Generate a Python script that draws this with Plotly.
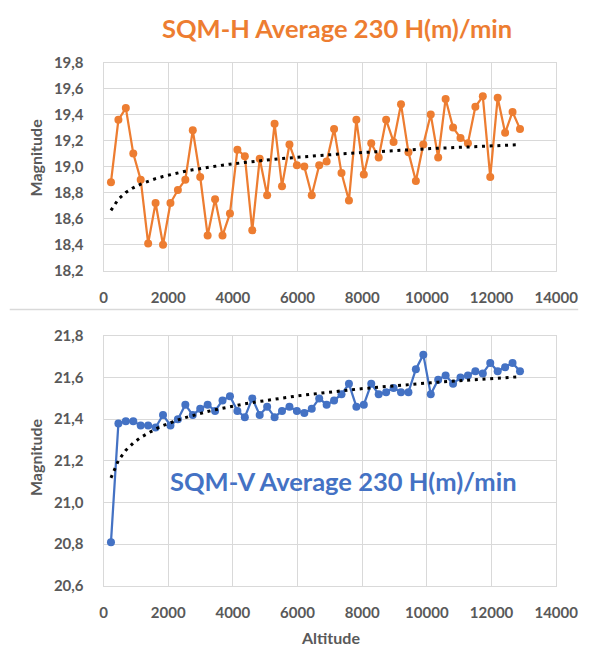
import numpy as np
import plotly.graph_objects as go

altitude = [230, 460, 690, 920, 1150, 1380, 1610, 1840, 2070, 2300,
            2530, 2760, 2990, 3220, 3450, 3680, 3910, 4140, 4370, 4600,
            4830, 5060, 5290, 5520, 5750, 5980, 6210, 6440, 6670, 6900,
            7130, 7360, 7590, 7820, 8050, 8280, 8510, 8740, 8970, 9200,
            9430, 9660, 9890, 10120, 10350, 10580, 10810, 11040, 11270, 11500,
            11730, 11960, 12190, 12420, 12650, 12880]

sqm_h = [18.88, 19.36, 19.45, 19.10, 18.90, 18.41, 18.72, 18.40, 18.72, 18.82,
         18.90, 19.28, 18.92, 18.47, 18.75, 18.47, 18.64, 19.13, 19.08, 18.51,
         19.06, 18.78, 19.33, 18.85, 19.17, 19.01, 19.00, 18.78, 19.01, 19.04,
         19.29, 18.95, 18.74, 19.36, 18.94, 19.18, 19.07, 19.36, 19.19, 19.48,
         19.11, 18.89, 19.17, 19.40, 19.07, 19.52, 19.30, 19.22, 19.18, 19.46,
         19.54, 18.92, 19.53, 19.26, 19.42, 19.29]

sqm_v = [20.81, 21.38, 21.39, 21.39, 21.37, 21.37, 21.36, 21.42, 21.37, 21.40,
         21.47, 21.42, 21.45, 21.47, 21.44, 21.49, 21.51, 21.44, 21.41, 21.50,
         21.42, 21.46, 21.41, 21.44, 21.46, 21.44, 21.43, 21.45, 21.50, 21.47,
         21.49, 21.52, 21.57, 21.46, 21.47, 21.57, 21.52, 21.53, 21.55, 21.53,
         21.53, 21.64, 21.71, 21.52, 21.59, 21.61, 21.57, 21.60, 21.61, 21.63,
         21.62, 21.67, 21.63, 21.65, 21.67, 21.63]

x_ticks = [0, 2000, 4000, 6000, 8000, 10000, 12000, 14000]
title_h = "SQM-H Average 230 H(m)/min"
title_v = "SQM-V Average 230 H(m)/min"
x_title = "Altitude"
y_title = "Magnitude"

ORANGE = "#ED7D31"
BLUE = "#4472C4"
GRID = "#D9D9D9"
TXT = "#595959"
FONT = "Lato"

W, H = 605, 661


def log_trend(xs, ys):
    lx = np.log(np.array(xs, dtype=float))
    b, a = np.polyfit(lx, np.array(ys, dtype=float), 1)
    return list(a + b * lx)


fig = go.Figure()
fig.add_trace(go.Scatter(x=altitude, y=sqm_h, mode="lines+markers",
                         line=dict(color=ORANGE, width=2.25),
                         marker=dict(color=ORANGE, size=8),
                         xaxis="x", yaxis="y", showlegend=False))
fig.add_trace(go.Scatter(x=altitude, y=log_trend(altitude, sqm_h), mode="lines",
                         line=dict(color="black", width=3, dash="3px,4.7px"),
                         xaxis="x", yaxis="y", showlegend=False))
fig.add_trace(go.Scatter(x=altitude, y=sqm_v, mode="lines+markers",
                         line=dict(color=BLUE, width=2.25),
                         marker=dict(color=BLUE, size=8),
                         xaxis="x2", yaxis="y2", showlegend=False))
fig.add_trace(go.Scatter(x=altitude, y=log_trend(altitude, sqm_v), mode="lines",
                         line=dict(color="black", width=3, dash="3px,4.7px"),
                         xaxis="x2", yaxis="y2", showlegend=False))

xl, xr = 104 / W, 577 / W


def py(p):
    return 1 - p / H


common_x = dict(range=[0, 14000], tickvals=x_ticks, tickformat="d",
                showgrid=True, gridcolor=GRID, gridwidth=1,
                showline=True, linecolor=GRID, mirror=True, zeroline=False,
                ticks="", ticklabelstandoff=13,
                tickfont=dict(family=FONT, size=15, color=TXT, weight="bold"))
common_y = dict(showgrid=True, gridcolor=GRID, gridwidth=1, dtick=0.2,
                tickformat=".1f", showline=True, linecolor=GRID, mirror=True,
                zeroline=False, ticks="", ticklabelstandoff=16,
                tickfont=dict(family=FONT, size=15, color=TXT, weight="bold"))

fig.update_layout(
    width=W, height=H, margin=dict(l=0, r=0, t=0, b=0),
    paper_bgcolor="white", plot_bgcolor="white",
    separators=",.",
    xaxis=dict(domain=[xl, xr], anchor="y", **common_x),
    yaxis=dict(domain=[py(268), py(54)], range=[18.2, 19.8], anchor="x", **common_y),
    xaxis2=dict(domain=[xl, xr], anchor="y2", **common_x),
    yaxis2=dict(domain=[py(592), py(335)], range=[20.6, 21.8], anchor="x2", **common_y),
)

annots = [
    dict(text=title_h, x=348 / W, y=py(19), font=dict(family=FONT, size=25.5, color=ORANGE, weight="bold")),
    dict(text=title_v, x=355 / W, y=py(484), font=dict(family=FONT, size=25.5, color=BLUE, weight="bold")),
    dict(text=y_title, x=33 / W, y=py(152), textangle=-90, font=dict(family=FONT, size=16, color=TXT, weight="bold")),
    dict(text=y_title, x=33 / W, y=py(460), textangle=-90, font=dict(family=FONT, size=16, color=TXT, weight="bold")),
    dict(text=x_title, x=341 / W, y=py(645), font=dict(family=FONT, size=16, color=TXT, weight="bold")),
]
for a in annots:
    fig.add_annotation(xref="paper", yref="paper", showarrow=False,
                       xanchor="center", yanchor="middle", **a)

fig.add_shape(type="line", xref="paper", yref="paper",
              x0=6 / W, x1=600 / W, y0=py(308), y1=py(308),
              line=dict(color=GRID, width=1.5))

fig.write_html("out.html")
